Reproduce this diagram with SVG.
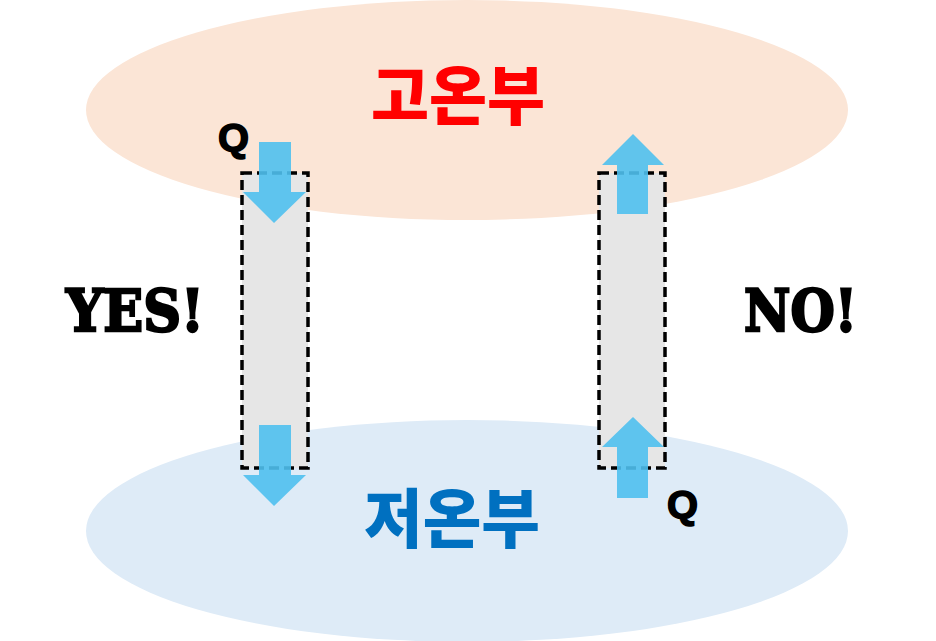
<svg xmlns="http://www.w3.org/2000/svg" width="936" height="641" viewBox="0 0 936 641">
<style>
.box{fill:#E6E6E6;stroke:#000;stroke-width:3.5;stroke-dasharray:10 5}
.arr{fill:#4FC0EE;fill-opacity:0.9}
.big{font-family:"Noto Sans CJK KR","Noto Sans",sans-serif;font-weight:900;font-size:64px;text-anchor:middle}
.lab{font-family:"DejaVu Serif","Liberation Serif",serif;font-weight:bold;font-size:58px;stroke:#000;stroke-width:2.5}
.q{font-family:"Liberation Sans","DejaVu Sans",sans-serif;font-weight:bold;font-size:38px;stroke:#000;stroke-width:1.5}
</style>
<rect width="936" height="641" fill="#fff"/>
<g id="hot">
<ellipse cx="467" cy="110" rx="381" ry="110" fill="#FBE5D6"/>
<text class="big" x="458" y="119" fill="#FF0000" textLength="174" lengthAdjust="spacingAndGlyphs">고온부</text>
</g>
<g id="cold">
<ellipse cx="467" cy="531" rx="381" ry="111" fill="#DEEBF7"/>
<text class="big" x="452" y="542" fill="#0070C0" textLength="176" lengthAdjust="spacingAndGlyphs">저온부</text>
</g>
<g id="leftbox"><rect class="box" x="242" y="173" width="66" height="295"/></g>
<g id="rightbox"><rect class="box" x="599" y="173" width="66" height="295"/></g>
<g id="connectors">
<polygon class="arr" points="259,142 291,142 291,192 306,192 274,223 243,192 259,192"/>
<polygon class="arr" points="259,425 291,425 291,475 306,475 274,506 243,475 259,475"/>
<polygon class="arr" points="633,134 664,165 648,165 648,214 617,214 617,165 602,165"/>
<polygon class="arr" points="633,417 664,447 648,447 648,498 617,498 617,447 602,447"/>
</g>
<g id="labels">
<text class="q" x="218" y="151" textLength="31" lengthAdjust="spacingAndGlyphs">Q</text>
<text class="q" x="667" y="518" textLength="31" lengthAdjust="spacingAndGlyphs">Q</text>
<text class="lab" x="66" y="331" textLength="138" lengthAdjust="spacingAndGlyphs">YES!</text>
<text class="lab" x="744" y="331" textLength="113" lengthAdjust="spacingAndGlyphs">NO!</text>
</g>
</svg>
